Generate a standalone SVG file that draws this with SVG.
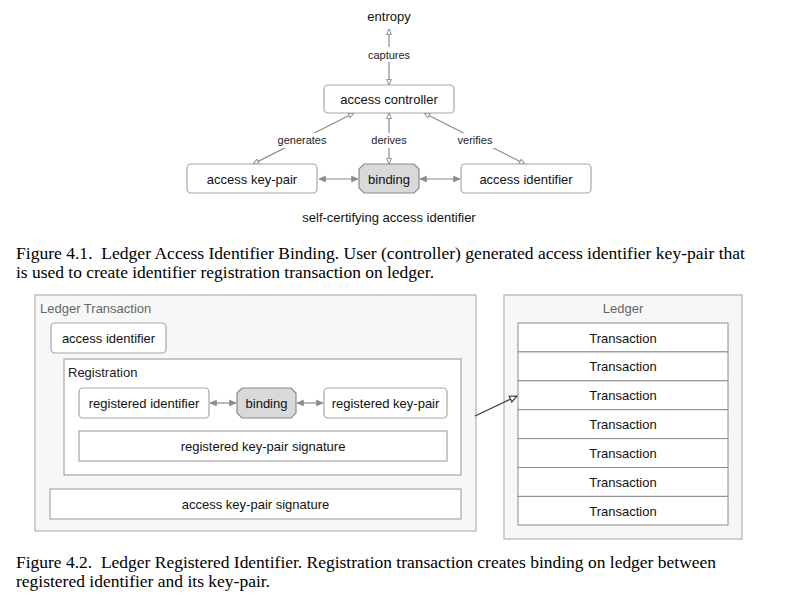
<svg xmlns="http://www.w3.org/2000/svg" width="789" height="600" viewBox="0 0 789 600">
<style>
text{font-family:"Liberation Sans",Arial,sans-serif;font-size:13px;fill:#111;}
.c{text-anchor:middle;}
.lbl{font-size:11px;fill:#222;}
.cap{font-family:"Liberation Serif","Times New Roman",serif;font-size:17px;fill:#000;white-space:pre;}
.node{fill:#fff;stroke:#a6a6a6;stroke-width:1.2;}
.bind{fill:#d9d9d9;stroke:#8c8c8c;stroke-width:1.2;}
.cont{fill:#f7f7f7;stroke:#b3b3b3;stroke-width:1.2;}
.reg{fill:#fff;stroke:#a6a6a6;stroke-width:1.2;}
.row{fill:#fff;stroke:#8c8c8c;stroke-width:1;}
.eh{stroke:#8c8c8c;stroke-width:1.2;fill:none;marker-start:url(#ho);marker-end:url(#ho);}
.ef{stroke:#8c8c8c;stroke-width:1.2;fill:none;marker-start:url(#fi);marker-end:url(#fi);}
.gray{fill:#666;}
</style>
<defs>
<marker id="ho" viewBox="0 0 10 10" refX="9" refY="5" markerWidth="7" markerHeight="7" markerUnits="userSpaceOnUse" orient="auto-start-reverse">
<path d="M1,1.5 L9,5 L1,8.5 Z" fill="#fff" stroke="#8c8c8c" stroke-width="1.4"/>
</marker>
<marker id="fi" viewBox="0 0 10 10" refX="9" refY="5" markerWidth="8" markerHeight="8" markerUnits="userSpaceOnUse" orient="auto-start-reverse">
<path d="M1,1.5 L9,5 L1,8.5 Z" fill="#8c8c8c" stroke="#8c8c8c" stroke-width="1"/>
</marker>
<marker id="hd" viewBox="0 0 10 10" refX="9" refY="5" markerWidth="9" markerHeight="9" markerUnits="userSpaceOnUse" orient="auto">
<path d="M1,1.5 L9,5 L1,8.5 Z" fill="#fff" stroke="#333" stroke-width="1.2"/>
</marker>
</defs>

<g id="ledger-transaction">
<rect class="cont" x="35" y="295" width="441" height="236"/>
<text class="gray" x="40" y="313">Ledger Transaction</text>
</g>
<g id="registration">
<rect class="reg" x="64" y="359" width="397" height="116"/>
<text x="68" y="377" style="fill:#222">Registration</text>
</g>
<g id="ledger">
<rect class="cont" x="504" y="295" width="238" height="244"/>
<text class="c gray" x="623" y="313">Ledger</text>
</g>

<g id="connectors">
<line class="eh" x1="389" y1="29" x2="389" y2="85"/>
<line class="eh" x1="389" y1="113" x2="389" y2="164"/>
<line class="eh" x1="354" y1="113" x2="253" y2="164"/>
<line class="eh" x1="424" y1="113" x2="525" y2="164"/>
<line class="ef" x1="319" y1="179" x2="358" y2="179"/>
<line class="ef" x1="420" y1="179" x2="460" y2="179"/>
<line class="ef" x1="210" y1="403" x2="236" y2="403"/>
<line class="ef" x1="297" y1="403" x2="323" y2="403"/>
<line x1="475" y1="416" x2="517" y2="396" stroke="#333" stroke-width="1.1" marker-end="url(#hd)"/>
<rect x="365" y="47" width="48" height="15" fill="#fff"/>
<text class="lbl c" x="389" y="59">captures</text>
<rect x="276" y="133" width="53" height="15" fill="#fff"/>
<text class="lbl c" x="302" y="144">generates</text>
<rect x="369" y="133" width="40" height="15" fill="#fff"/>
<text class="lbl c" x="389" y="144">derives</text>
<rect x="456" y="133" width="38" height="15" fill="#fff"/>
<text class="lbl c" x="475" y="144">verifies</text>
</g>

<g id="entropy"><text class="c" x="389" y="21">entropy</text></g>
<g id="access-controller">
<rect class="node" x="324" y="85" width="130" height="28" rx="4"/>
<text class="c" x="389" y="104">access controller</text>
</g>
<g id="access-key-pair">
<rect class="node" x="187" y="164" width="130" height="29" rx="4"/>
<text class="c" x="252" y="183.5">access key-pair</text>
</g>
<g id="binding-1">
<path class="bind" d="M364,164 H414 L419,169 V188 L414,193 H364 L359,188 V169 Z"/>
<text class="c" x="389" y="183.5">binding</text>
</g>
<g id="access-identifier">
<rect class="node" x="461" y="164" width="130" height="29" rx="4"/>
<text class="c" x="526" y="183.5">access identifier</text>
</g>
<g id="title-1"><text class="c" x="389" y="222">self-certifying access identifier</text></g>

<g id="caption-1">
<text class="cap" x="16" y="259" textLength="729" lengthAdjust="spacingAndGlyphs">Figure 4.1.  Ledger Access Identifier Binding. User (controller) generated access identifier key-pair that</text>
<text class="cap" x="16" y="278" textLength="418" lengthAdjust="spacingAndGlyphs">is used to create identifier registration transaction on ledger.</text>
</g>

<g id="access-identifier-2">
<rect class="node" x="51" y="323" width="115" height="30" rx="4"/>
<text class="c" x="108.5" y="343">access identifier</text>
</g>
<g id="registered-identifier">
<rect class="node" x="79" y="388" width="130" height="30" rx="4"/>
<text class="c" x="144" y="408">registered identifier</text>
</g>
<g id="binding-2">
<path class="bind" d="M242,388 H291 L296,393 V413 L291,418 H242 L237,413 V393 Z"/>
<text class="c" x="266.5" y="408">binding</text>
</g>
<g id="registered-key-pair">
<rect class="node" x="324" y="388" width="123" height="30" rx="4"/>
<text class="c" x="385.5" y="408">registered key-pair</text>
</g>
<g id="registered-key-pair-signature">
<rect class="node" x="79" y="431" width="368" height="30"/>
<text class="c" x="263" y="451">registered key-pair signature</text>
</g>
<g id="access-key-pair-signature">
<rect class="node" x="50" y="489" width="411" height="30"/>
<text class="c" x="255.5" y="509">access key-pair signature</text>
</g>

<g id="transactions">
<rect class="row" x="518" y="323" width="210" height="28.9"/>
<text class="c" x="623" y="342.5">Transaction</text>
<rect class="row" x="518" y="351.9" width="210" height="28.9"/>
<text class="c" x="623" y="371.4">Transaction</text>
<rect class="row" x="518" y="380.8" width="210" height="28.9"/>
<text class="c" x="623" y="400.3">Transaction</text>
<rect class="row" x="518" y="409.7" width="210" height="28.9"/>
<text class="c" x="623" y="429.2">Transaction</text>
<rect class="row" x="518" y="438.6" width="210" height="28.9"/>
<text class="c" x="623" y="458.1">Transaction</text>
<rect class="row" x="518" y="467.5" width="210" height="28.9"/>
<text class="c" x="623" y="487">Transaction</text>
<rect class="row" x="518" y="496.4" width="210" height="28.6"/>
<text class="c" x="623" y="515.9">Transaction</text>
</g>

<g id="caption-2">
<text class="cap" x="16" y="568" textLength="700" lengthAdjust="spacingAndGlyphs">Figure 4.2.  Ledger Registered Identifier. Registration transaction creates binding on ledger between</text>
<text class="cap" x="16" y="587" textLength="254" lengthAdjust="spacingAndGlyphs">registered identifier and its key-pair.</text>
</g>
</svg>
